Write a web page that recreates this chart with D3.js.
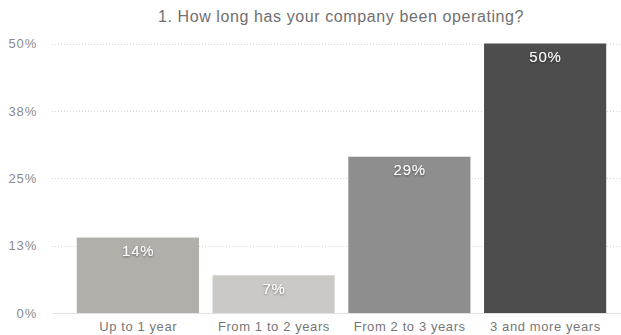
<!DOCTYPE html>
<html>
<head>
<meta charset="utf-8">
<script src="https://cdn.jsdelivr.net/npm/d3@7"></script>
<style>
  html, body { margin: 0; padding: 0; background: #fff; }
  svg { display: block; font-family: "Liberation Sans", Arial, Helvetica, sans-serif; }
</style>
</head>
<body>
<svg id="chart" width="621" height="335"></svg>
<script>
// Survey answers and their shares (percent)
const categories = ["Up to 1 year", "From 1 to 2 years", "From 2 to 3 years", "3 and more years"];
const values = [14, 7, 29, 50];
const barColors = ["#b0afa9", "#cbc9c5", "#8e8e8e", "#4d4d4d"];
const tickValues = [0, 12.5, 25, 37.5, 50];
const tickLabels = ["0%", "13%", "25%", "38%", "50%"];
const title = "1. How long has your company been operating?";

const svg = d3.select("#chart");

const x = d3.scaleBand()
  .domain(categories)
  .range([70, 613])
  .paddingInner(0.1)
  .paddingOuter(0.05);

const y = d3.scaleLinear()
  .domain([0, 50])
  .range([313, 43.5]);

// Title
svg.append("text")
  .attr("x", 341)
  .attr("y", 22)
  .attr("text-anchor", "middle")
  .attr("fill", "#707070")
  .attr("font-size", 16)
  .attr("letter-spacing", 0.6)
  .text(title);

// Dotted horizontal gridlines
svg.append("g")
  .selectAll("line")
  .data(tickValues.filter(d => d > 0))
  .join("line")
  .attr("x1", 52)
  .attr("x2", 621)
  .attr("y1", d => Math.round(y(d)) + 0.5)
  .attr("y2", d => Math.round(y(d)) + 0.5)
  .attr("stroke", "#d8d8d8")
  .attr("stroke-width", 1)
  .attr("stroke-dasharray", "1,2");

// Y axis labels
const yAxis = d3.axisLeft(y)
  .tickValues(tickValues)
  .tickFormat((d, i) => tickLabels[i])
  .tickSize(0)
  .tickPadding(0);

svg.append("g")
  .attr("transform", "translate(37,0)")
  .call(yAxis)
  .call(g => g.select(".domain").remove())
  .call(g => g.selectAll("text")
    .attr("fill", "#8a8a8a")
    .attr("font-size", 13)
    .attr("letter-spacing", 0.8)
    .attr("font-family", "Liberation Sans, Arial, sans-serif"));

// Bars
svg.append("g")
  .selectAll("rect")
  .data(values)
  .join("rect")
  .attr("x", (d, i) => x(categories[i]))
  .attr("y", d => y(d))
  .attr("width", x.bandwidth())
  .attr("height", d => y(0) - y(d))
  .attr("fill", (d, i) => barColors[i]);

// Baseline
svg.append("line")
  .attr("x1", 53)
  .attr("x2", 621)
  .attr("y1", y(0) + 0.5)
  .attr("y2", y(0) + 0.5)
  .attr("stroke", "#e2e2e2")
  .attr("stroke-width", 1);

// Value labels inside bars, white with a soft dark shadow
const defs = svg.append("defs");
const f = defs.append("filter").attr("id", "shadow").attr("x", "-20%").attr("y", "-20%").attr("width", "140%").attr("height", "140%");
f.append("feDropShadow")
  .attr("dx", 0).attr("dy", 1)
  .attr("stdDeviation", 0.8)
  .attr("flood-color", "#000")
  .attr("flood-opacity", 0.45);

svg.append("g")
  .selectAll("text")
  .data(values)
  .join("text")
  .attr("x", (d, i) => x(categories[i]) + x.bandwidth() / 2 + 0.4)
  .attr("y", d => y(d) + 18.5)
  .attr("text-anchor", "middle")
  .attr("fill", "#fff")
  .attr("font-size", 15)
  .attr("letter-spacing", 0.8)
  .attr("filter", "url(#shadow)")
  .text(d => d + "%");

// X axis labels
const xAxis = d3.axisBottom(x).tickSize(0).tickPadding(0);
svg.append("g")
  .attr("transform", "translate(0.3,331)")
  .call(xAxis)
  .call(g => g.select(".domain").remove())
  .call(g => g.selectAll("text")
    .attr("y", 0)
    .attr("dy", 0)
    .attr("fill", "#777")
    .attr("font-size", 13)
    .attr("letter-spacing", 0.6)
    .attr("font-family", "Liberation Sans, Arial, sans-serif"));
</script>
</body>
</html>
